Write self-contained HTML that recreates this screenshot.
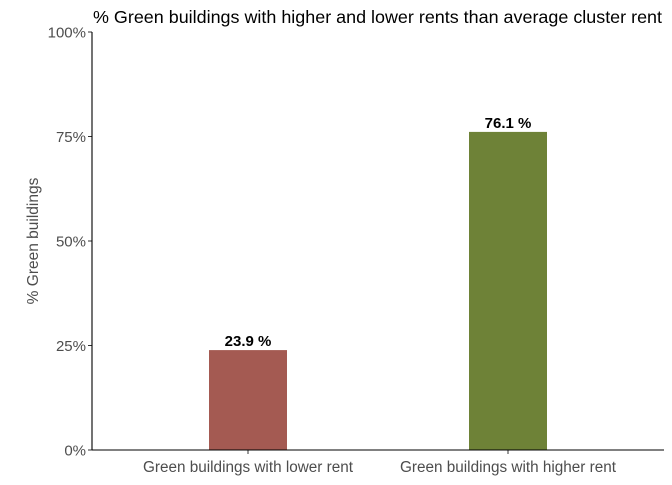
<!DOCTYPE html>
<html><head><meta charset="utf-8"><style>
body{margin:0;background:#fff;font-family:"Liberation Sans",Arial,sans-serif}
</style></head><body>
<svg width="672" height="480" xmlns="http://www.w3.org/2000/svg" font-family="Liberation Sans, Arial, sans-serif">
<text x="93" y="23" font-size="17.5" textLength="569" lengthAdjust="spacingAndGlyphs" fill="#000">% Green buildings with higher and lower rents than average cluster rent</text>
<text transform="translate(38,241) rotate(-90)" text-anchor="middle" font-size="15.5" fill="#4d4d4d">% Green buildings</text>
<g id="plot"></g>
</svg>
<script>
const categories=["Green buildings with lower rent","Green buildings with higher rent"];
const values=[23.9,76.1];
const colors=["#A45A52","#6E8237"];
const yTicks=[0,25,50,75,100];
const tickLabels=["0%","25%","50%","75%","100%"];
const NS="http://www.w3.org/2000/svg";
const g=document.getElementById("plot");
const x0=92,x1=664,yb=450,yt=32;
const y=v=>yb-(yb-yt)*v/100;
const step=(x1-x0)/(categories.length-1+1.2);
const xc=i=>x0+step*(0.6+i);
function el(t,a,p){const e=document.createElementNS(NS,t);for(const k in a)e.setAttribute(k,a[k]);(p||g).appendChild(e);return e;}
yTicks.forEach((v,i)=>{
 const t=el("line",{x1:x0-4,x2:x0,y1:y(v),y2:y(v),stroke:"#333","stroke-width":1});
 
 
 const l=el("text",{x:x0-6,y:y(v)+5.5,"text-anchor":"end","font-size":15,fill:"#4d4d4d"});
 l.textContent=tickLabels[i];
 
 
});
categories.forEach((c,i)=>{
 const bw=step*0.3;
 const b=el("rect",{x:xc(i)-bw/2,y:y(values[i]),width:bw,height:yb-y(values[i]),fill:colors[i]});
 
 
 const v=el("text",{x:xc(i),y:y(values[i])-4,"text-anchor":"middle","font-size":15,"font-weight":"bold",fill:"#000"});
 v.textContent=values[i].toFixed(1)+" %";
 
 
 const t=el("line",{x1:xc(i),x2:xc(i),y1:yb,y2:yb+4,stroke:"#333","stroke-width":1});
 
 
 const l=el("text",{x:xc(i),y:yb+22,"text-anchor":"middle","font-size":15.3,fill:"#4d4d4d"});
 l.textContent=c;
 
 
});
const ax=el("line",{x1:x0,x2:x0,y1:yt,y2:yb,stroke:"#000","stroke-width":1.1});


const ax2=el("line",{x1:x0,x2:x1,y1:yb,y2:yb,stroke:"#000","stroke-width":1.1});


</script>
</body></html>
